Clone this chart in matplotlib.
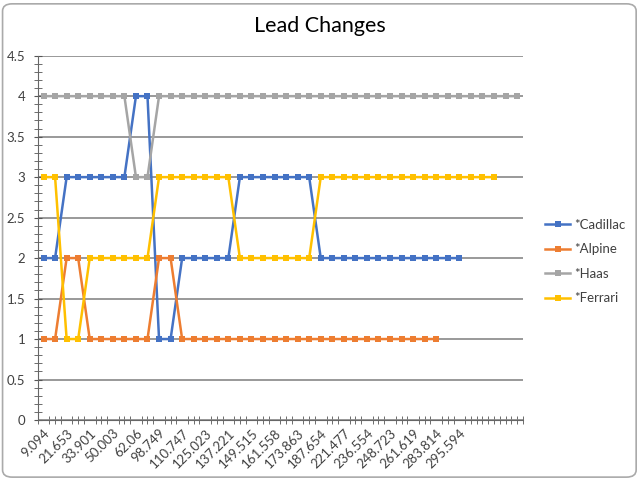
import matplotlib
matplotlib.use("Agg")
import matplotlib.pyplot as plt
from matplotlib.patches import FancyBboxPatch
import numpy as np

plt.rcParams['font.family'] = ['Lato', 'DejaVu Sans']

n_categories = 42
tick_labels = ["9.094", "21.653", "33.901", "50.003", "62.06", "98.749", "110.747",
               "125.023", "137.221", "149.515", "161.558", "173.863", "187.654",
               "221.477", "236.554", "248.723", "261.619", "283.814", "295.594"]

cadillac = [2, 2, 3, 3, 3, 3, 3, 3, 4, 4, 1, 1, 2, 2, 2, 2, 2,
            3, 3, 3, 3, 3, 3, 3,
            2, 2, 2, 2, 2, 2, 2, 2, 2, 2, 2, 2, 2]
alpine = [1, 1, 2, 2, 1, 1, 1, 1, 1, 1, 2, 2,
          1, 1, 1, 1, 1, 1, 1, 1, 1, 1, 1, 1, 1, 1, 1, 1, 1, 1, 1, 1, 1, 1, 1]
haas = [4, 4, 4, 4, 4, 4, 4, 4, 3, 3,
        4, 4, 4, 4, 4, 4, 4, 4, 4, 4, 4, 4, 4, 4, 4, 4, 4, 4, 4, 4, 4, 4,
        4, 4, 4, 4, 4, 4, 4, 4, 4, 4]
ferrari = [3, 3, 1, 1, 2, 2, 2, 2, 2, 2,
           3, 3, 3, 3, 3, 3, 3,
           2, 2, 2, 2, 2, 2, 2,
           3, 3, 3, 3, 3, 3, 3, 3, 3, 3, 3, 3, 3, 3, 3, 3]

series = [("*Cadillac", cadillac, "#4472C4"),
          ("*Alpine", alpine, "#ED7D31"),
          ("*Haas", haas, "#A5A5A5"),
          ("*Ferrari", ferrari, "#FFC000")]

fig = plt.figure(figsize=(6.4, 4.8), dpi=100)
ax = fig.add_axes([0.059, 0.125, 0.758, 0.759])

for name, vals, col in series:
    x = np.arange(len(vals))
    ax.plot(x, vals, color=col, lw=1.8, marker='s', markersize=4.2,
            markeredgewidth=0, label=name, zorder=3)

ax.set_xlim(-0.5, n_categories - 0.5)
ax.set_ylim(0, 4.5)
ax.set_yticks(np.arange(0, 4.51, 0.5))
ax.set_yticklabels(["0", "0.5", "1", "1.5", "2", "2.5", "3", "3.5", "4", "4.5"])
ax.set_yticks(np.arange(0, 4.5, 0.1), minor=True)
ax.yaxis.grid(True, which='major', color='#888888', lw=1.2, zorder=0)

ax.set_xticks(np.arange(0, 2 * len(tick_labels), 2))
ax.set_xticklabels(tick_labels, rotation=45, ha='right', rotation_mode='anchor')
ax.set_xticks(np.arange(-0.5, n_categories, 0.5), minor=True)

for s in ['top', 'right']:
    ax.spines[s].set_visible(False)
ax.spines['left'].set_color('#666666')
ax.spines['bottom'].set_color('#666666')
ax.tick_params(axis='both', which='both', direction='inout', color='#555555',
               labelcolor='#404040', labelsize=9.5)
ax.tick_params(axis='x', which='major', length=0, pad=5)
ax.tick_params(axis='x', which='minor', length=6)
ax.tick_params(axis='y', which='major', length=6, pad=6)
ax.tick_params(axis='y', which='minor', length=6)

fig.text(0.5, 0.945, "Lead Changes", ha='center', va='center', fontsize=15.5,
         color='black')

leg = fig.legend(loc='center left', bbox_to_anchor=(0.852, 0.455), frameon=False,
                 fontsize=9.5, handlelength=1.9, labelspacing=0.95, handletextpad=0.3,
                 borderaxespad=0, borderpad=0)
for t in leg.get_texts():
    t.set_color('#404040')

border = FancyBboxPatch((0.004, 0.006), 0.99, 0.986, boxstyle="round,pad=0,rounding_size=0.015",
                        transform=fig.transFigure, fill=False, edgecolor='#AAAAAA', lw=1.2)
fig.patches.append(border)

fig.savefig("out.png", dpi=100)
